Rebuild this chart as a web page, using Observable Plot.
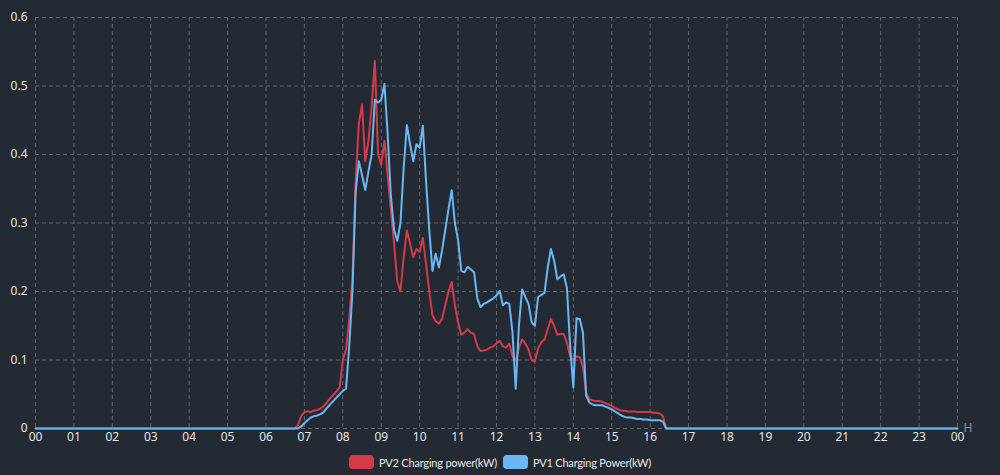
<!DOCTYPE html>
<html><head><meta charset="utf-8">
<script src="https://cdn.jsdelivr.net/npm/d3@7"></script>
<script src="https://cdn.jsdelivr.net/npm/@observablehq/plot@0.6"></script>
<style>
html,body{margin:0;padding:0;background:#242a33;}
#chart{width:1000px;height:445px;}
.legend{display:flex;justify-content:center;align-items:center;height:30px;padding-top:2px;font-family:"Lato",sans-serif;font-size:11px;letter-spacing:-0.2px;color:#e8e8e8;}
.item{display:flex;align-items:center;margin:0 3px;}
.sw{width:25px;height:14px;border-radius:4px;margin-right:5px;}
</style></head><body>
<div id="chart"></div>
<div class="legend" id="legend"></div>
<script>
const times = ["00:00",
"06:45","06:50","06:55",
"07:00","07:05","07:10","07:15","07:20","07:25","07:30","07:35","07:40","07:45","07:50","07:55",
"08:00","08:05","08:10","08:15","08:20","08:25","08:30","08:35","08:40","08:45","08:50","08:55",
"09:00","09:05","09:10","09:15","09:20","09:25","09:30","09:35","09:40","09:45","09:50","09:55",
"10:00","10:05","10:10","10:15","10:20","10:25","10:30","10:35","10:40","10:45","10:50","10:55",
"11:00","11:05","11:10","11:15","11:20","11:25","11:30","11:35","11:40","11:45","11:50","11:55",
"12:00","12:05","12:10","12:15","12:20","12:25","12:30","12:35","12:40","12:45","12:50","12:55",
"13:00","13:05","13:10","13:15","13:20","13:25","13:30","13:35","13:40","13:45","13:50","13:55",
"14:00","14:05","14:10","14:15","14:20","14:25","14:30","14:35","14:40","14:45","14:50","14:55",
"15:00","15:05","15:10","15:15","15:20","15:25","15:30","15:35","15:40","15:45","15:50","15:55",
"16:00","16:05","16:10","16:15","16:20","16:25",
"24:00"];

const pv2 = [0,
0,0.005,0.018,
0.024,0.025,0.024,0.026,0.027,0.029,0.033,0.038,0.044,0.049,0.054,0.06,
0.10,0.115,0.16,0.22,0.36,0.445,0.473,0.39,0.42,0.47,0.537,0.40,
0.385,0.42,0.37,0.32,0.27,0.215,0.20,0.25,0.289,0.27,0.25,0.262,
0.258,0.278,0.24,0.20,0.165,0.157,0.153,0.16,0.18,0.20,0.214,0.18,
0.155,0.137,0.14,0.145,0.14,0.138,0.12,0.113,0.114,0.115,0.118,0.12,
0.124,0.128,0.12,0.118,0.124,0.105,0.099,0.118,0.13,0.124,0.115,0.10,
0.098,0.117,0.126,0.13,0.145,0.16,0.15,0.137,0.138,0.138,0.125,0.105,
0.10,0.105,0.104,0.09,0.052,0.043,0.041,0.040,0.040,0.039,0.037,0.035,
0.033,0.030,0.028,0.026,0.026,0.025,0.025,0.025,0.024,0.024,0.024,0.024,
0.024,0.023,0.023,0.022,0.018,0,
0];

const pv1 = [0,
0,0,0.003,
0.008,0.012,0.016,0.018,0.019,0.021,0.024,0.030,0.035,0.040,0.045,0.050,
0.055,0.058,0.12,0.20,0.345,0.39,0.37,0.348,0.375,0.40,0.48,0.476,
0.48,0.503,0.43,0.34,0.29,0.274,0.30,0.38,0.443,0.415,0.39,0.415,
0.41,0.442,0.36,0.29,0.23,0.255,0.235,0.26,0.29,0.32,0.348,0.30,
0.275,0.23,0.228,0.236,0.232,0.228,0.19,0.177,0.182,0.184,0.187,0.19,
0.194,0.201,0.18,0.184,0.182,0.14,0.058,0.15,0.203,0.192,0.182,0.155,
0.15,0.192,0.195,0.198,0.235,0.262,0.245,0.218,0.222,0.225,0.205,0.12,
0.06,0.161,0.160,0.14,0.048,0.038,0.035,0.034,0.034,0.034,0.032,0.030,
0.028,0.025,0.022,0.019,0.017,0.016,0.016,0.015,0.014,0.014,0.013,0.013,
0.012,0.012,0.012,0.012,0.010,0,
0];

const hourTicks = [0,1,2,3,4,5,6,7,8,9,10,11,12,13,14,15,16,17,18,19,20,21,22,23,24];
const hourLabels = ["00","01","02","03","04","05","06","07","08","09","10","11","12","13","14","15","16","17","18","19","20","21","22","23","00"];
const yTicks = [0,0.1,0.2,0.3,0.4,0.5,0.6];
const yLabels = ["0","0.1","0.2","0.3","0.4","0.5","0.6"];
const seriesNames = ["PV2 Charging power(kW)","PV1 Charging Power(kW)"];
const seriesColors = ["#d43a4a","#6ab8f3"];

const toHours = s => { const [h,m] = s.split(":").map(Number); return h + m/60; };
const rows = times.map((t,i) => ({h: toHours(t), pv2: pv2[i], pv1: pv1[i]}));

const gridStyle = {stroke:"#5f656d", strokeOpacity:1, strokeDasharray:"4,3", strokeWidth:1};

const chart = Plot.plot({
  width: 1000, height: 445,
  marginLeft: 35, marginRight: 43, marginTop: 17, marginBottom: 17,
  style: {background:"transparent", color:"#e6e6e6", fontFamily:"'Noto Sans', sans-serif", fontSize:"12px"},
  x: {domain:[0,24]},
  y: {domain:[0,0.6]},
  marks: [
    Plot.gridX(hourTicks, gridStyle),
    Plot.gridY(yTicks, gridStyle),
    Plot.axisX(hourTicks, {tickSize:0, tickPadding:4, tickFormat: d => hourLabels[hourTicks.indexOf(d)], label:null, fill:"#e6e6e6"}),
    Plot.axisY(yTicks, {tickSize:0, tickPadding:8, tickFormat: d => yLabels[yTicks.indexOf(d)], label:null, fill:"#e6e6e6"}),
    Plot.line(rows, {x:"h", y:"pv2", stroke:seriesColors[0], strokeWidth:2}),
    Plot.line(rows, {x:"h", y:"pv1", stroke:seriesColors[1], strokeWidth:2}),
    Plot.text(["H"], {x:[24], y:[0], dx:6, textAnchor:"start", fill:"#8a9099", fontSize:12})
  ]
});
document.getElementById("chart").appendChild(chart);

const leg = document.getElementById("legend");
seriesNames.forEach((n,i) => {
  const it = document.createElement("div"); it.className = "item";
  const sw = document.createElement("div"); sw.className = "sw"; sw.style.background = seriesColors[i];
  const tx = document.createElement("span"); tx.textContent = n;
  it.appendChild(sw); it.appendChild(tx); leg.appendChild(it);
});
</script>
</body></html>
